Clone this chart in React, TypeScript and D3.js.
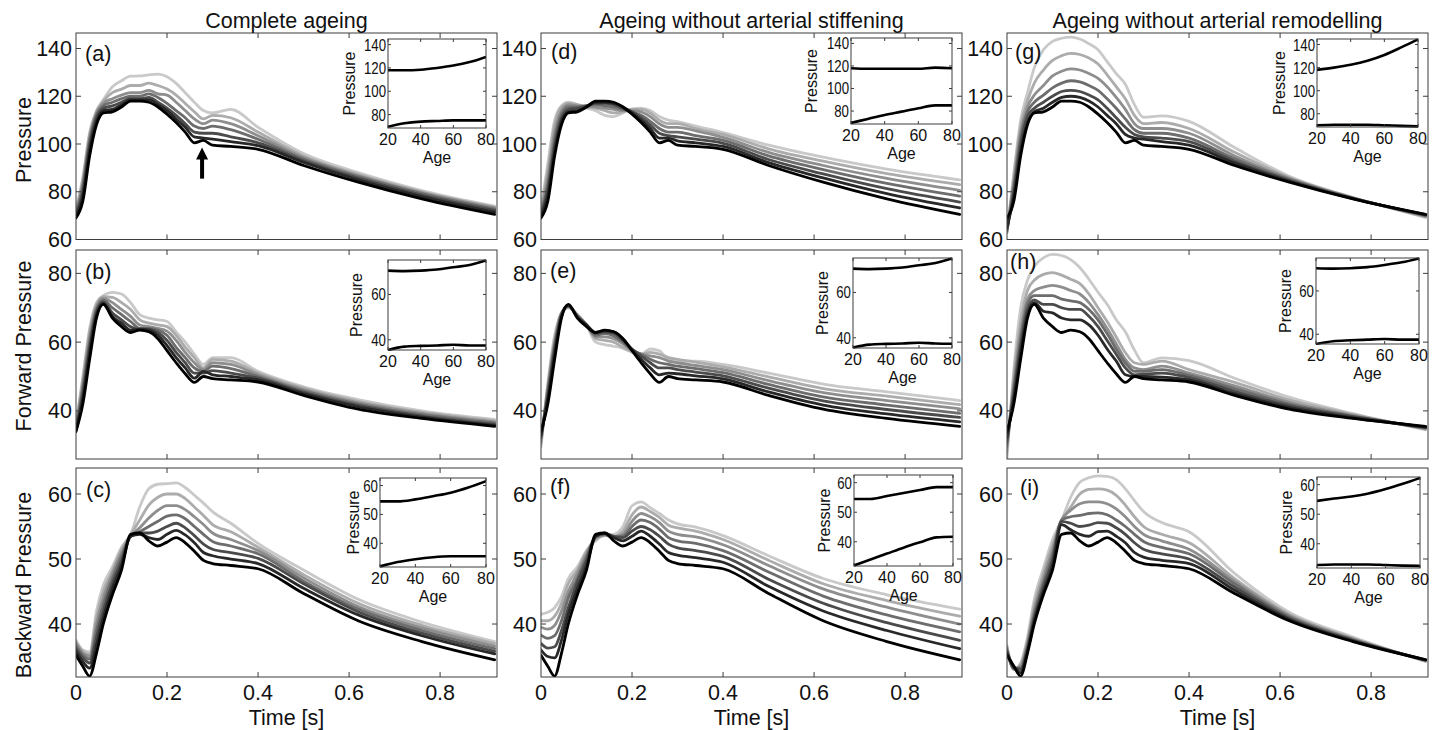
import React from 'react';
import * as d3 from 'd3';

// ---------- time grid (s) ----------
const T = [0, 0.015, 0.03, 0.045, 0.06, 0.08, 0.10, 0.12, 0.14, 0.16, 0.18, 0.20, 0.22, 0.24, 0.26, 0.28, 0.30, 0.34, 0.40, 0.50, 0.62, 0.76, 0.92];

// ---------- baseline (age 20, black) curves shared by each row ----------
const PRS_BASE = [69, 76, 95, 108, 113, 113.5, 115.5, 118, 118, 117.5, 115.5, 112.5, 109, 105, 100.5, 101.5, 99.5, 99, 97.8, 91, 84, 77, 70.5];
const FWD_BASE = [34, 42, 55, 67, 71, 67, 64.5, 62.8, 63.5, 63, 61, 57.5, 54, 50.8, 48.3, 50, 49.4, 49, 48.4, 44.5, 40.5, 37.8, 35.5];
const BWD_BASE = [35.2, 33.5, 32, 35.5, 40, 44.5, 48.3, 53.8, 54, 52.8, 52, 52.6, 53.3, 52.5, 51.2, 49.8, 49.3, 49, 48.5, 44.7, 40.5, 37.3, 34.5];

// ---------- (a) complete ageing, pressure ----------
const A1 = [70, 78, 97.5, 109.5, 114, 114.5, 116.5, 118.5, 118.5, 118.5, 116.5, 114, 110.5, 107, 103, 102.5, 102, 101, 99.3, 92.3, 85, 78, 71.5];
const A2 = [70.5, 80, 99.5, 111, 115, 116, 117.5, 119, 119, 119.5, 117.5, 115, 112, 108.5, 105, 104.5, 104.5, 103, 100.5, 93, 85.7, 78.6, 72.2];
const A3 = [71, 82, 101.5, 112, 116, 117.5, 119, 120, 120, 121, 119.5, 117, 114, 111, 107.5, 106.5, 107.5, 106, 102, 93.7, 86.3, 79.2, 72.7];
const A4 = [71.5, 83.5, 102.5, 113, 117, 119, 120.5, 121.5, 121.5, 122.5, 121, 120.5, 117.5, 114, 110.5, 108.5, 110, 108.5, 103.5, 94.3, 86.8, 79.6, 73.2];
const A5 = [72, 85, 104, 113.5, 118, 121.5, 123, 124.5, 124.5, 125.5, 124.5, 123, 120.5, 117, 113.5, 110.5, 112, 111, 105, 95, 87.3, 80, 73.6];
const A6 = [73, 86, 105, 114, 118.5, 124, 126.5, 128.4, 128.5, 129, 129.3, 128.2, 125.4, 121.5, 117.5, 114, 113, 114.5, 107, 96, 88, 80.5, 74];

// ---------- (d) without stiffening, pressure ----------
const D1 = [70, 78.5, 97, 109.5, 113.5, 114, 115.5, 117.5, 117.5, 117, 115.5, 113, 110, 106.5, 102.5, 102.5, 101.3, 100.5, 99, 92.2, 85.8, 79.2, 73.2];
const D2 = [70.5, 81, 99.5, 111, 114.5, 115, 116, 117, 117, 116.5, 115, 113.5, 111, 108, 104.5, 103.5, 103, 102, 100.3, 93.5, 87.5, 81.3, 75.7];
const D3 = [71, 83, 102, 112.5, 115.5, 115.5, 116, 116.5, 116, 115.5, 114.5, 113.5, 112, 109.5, 106.5, 105, 105, 103.5, 101.5, 95, 89.3, 83.5, 78.2];
const D4 = [72, 86, 105, 114, 116.5, 116, 116, 115.5, 115, 114.5, 114, 114, 113.5, 111.5, 108.5, 107, 107, 105.5, 102.8, 96.5, 91, 85.6, 80.6];
const D5 = [72.5, 89, 108, 115.5, 117, 116.5, 115.5, 115, 114, 113, 113.5, 114.5, 114.5, 113, 110, 108.5, 108.5, 106.5, 104, 98, 92.8, 87.6, 83];
const D6 = [73, 92, 110, 116, 117.5, 116.5, 115, 114, 112, 111.5, 113, 114.7, 115, 114, 111.5, 110, 109.4, 107.5, 104.8, 99.5, 94.5, 89.5, 85];

// ---------- (g) without remodelling, pressure ----------
const G1 = [65, 78, 97, 109, 113.5, 115, 117.5, 119.5, 120, 119.5, 118, 115.5, 112, 108.5, 104, 102.5, 102, 101, 99.5, 92, 84.4, 77.1, 70.4];
const G2 = [64.5, 80, 100, 111.5, 115, 117.5, 120, 122, 122.5, 122, 120.5, 118.5, 115, 111, 107, 104, 103, 102.5, 101, 92.8, 84.8, 77.2, 70.2];
const G3 = [64, 82, 102.5, 113.5, 117.5, 120.5, 123.5, 125.5, 126.5, 126, 124.5, 122.5, 119, 115, 110.5, 106, 104.5, 104.5, 102.5, 93.8, 85.2, 77.3, 70];
const G4 = [63.5, 84, 105, 115.5, 120.5, 124.5, 128.5, 130.5, 131.5, 131, 129.5, 127.5, 124, 119.5, 114.5, 108.5, 106.5, 106.5, 104.5, 95, 85.6, 77.4, 69.8];
const G5 = [63, 86, 107.5, 118, 125.5, 131, 135, 137, 138, 137.5, 136, 133.5, 129, 124, 119, 112, 108.5, 109, 106.5, 96.5, 86, 77.5, 69.5];
const G6 = [63, 88, 110, 121.5, 132, 139.5, 143, 144.3, 144.8, 144, 142, 139.5, 134.5, 129.5, 125, 116.5, 111.2, 111.8, 109.5, 98.5, 86.5, 77.6, 69.2];

// ---------- (b) complete ageing, forward ----------
const B1 = [34.3, 43.5, 57, 68, 71.3, 67.5, 65.5, 63.5, 63.8, 63.5, 62, 59, 55.5, 52.5, 49.5, 51.5, 50.5, 50, 49, 45, 41.2, 38.2, 35.8];
const B2 = [34.6, 45, 58.5, 68.8, 71.7, 68.5, 66.5, 64.5, 63.8, 63.8, 62.8, 60.5, 57, 54, 51, 51, 51.7, 51, 49.5, 45.4, 41.6, 38.5, 36.1];
const B3 = [35, 46.5, 60, 69.5, 72.2, 70, 68, 66, 64, 64, 63.5, 62, 58.5, 55.5, 52.5, 51.5, 53, 52.3, 50, 45.8, 42, 38.9, 36.5];
const B4 = [35.3, 47.5, 61.5, 70.2, 72.7, 71.5, 69.5, 67.5, 65, 64.5, 64, 63.2, 60.5, 57, 54, 52, 54, 53.5, 50.5, 46.2, 42.4, 39.3, 36.8];
const B5 = [35.6, 49, 63, 71, 73.2, 73, 71.5, 69.5, 66.5, 65.5, 65, 64.5, 62, 58.5, 55.5, 52.5, 55, 54.5, 51, 46.6, 42.8, 39.6, 37.1];
const B6 = [36, 50, 64, 71.5, 73.5, 74.5, 74, 71.5, 68, 67, 66.5, 66, 63, 60, 56.5, 53.5, 55.5, 55.5, 51.5, 47, 43.3, 40, 37.5];

// ---------- (e) without stiffening, forward ----------
const E1 = [33, 43.5, 56.5, 67.5, 70.8, 67.2, 65, 62.8, 63.3, 63, 61, 57.8, 55, 52.5, 50.5, 51, 50.8, 50.2, 49.3, 45.5, 41.7, 39.1, 36.8];
const E2 = [32.5, 44.5, 58, 68, 70.6, 67.4, 65, 62.5, 63, 62.5, 60.5, 58, 56, 54, 52.5, 52.5, 52, 51.3, 50.2, 46.6, 42.9, 40.4, 38.1];
const E3 = [32, 45.5, 59, 68, 70.4, 67.6, 65, 62, 62.5, 61.8, 60, 57.8, 56.5, 55, 54, 53.5, 53, 52.3, 51.1, 47.7, 44.1, 41.7, 39.3];
const E4 = [31, 46.5, 60, 68.5, 70.3, 67.8, 65, 61.5, 61.5, 61, 59.5, 57.5, 56.5, 56, 55.5, 54.5, 54, 53.2, 52, 48.8, 45.3, 43, 40.6];
const E5 = [30.5, 47.5, 61, 68.5, 70.2, 68, 65, 61, 60.5, 60, 58.5, 57.3, 56.5, 57, 56.5, 55.5, 55, 54.2, 52.8, 49.9, 46.5, 44.3, 41.8];
const E6 = [29.5, 48, 62, 68.5, 70, 68, 65, 60, 59.3, 58.8, 58.2, 57, 56.5, 58, 57.5, 55, 54.5, 54.5, 53.5, 51, 47.8, 45.5, 43];

// ---------- (h) without remodelling, forward ----------
const H1 = [32.5, 43.5, 57, 68, 71.5, 69, 68.5, 67, 66.5, 66.5, 65, 62, 58, 54.5, 50.5, 50, 50, 49.8, 49, 45, 41, 38, 35.3];
const H2 = [31.5, 45, 59, 69.5, 72.3, 71, 71, 70, 69.5, 69.5, 67.5, 64.5, 60.5, 56.5, 52.5, 50.5, 50.7, 51, 49.7, 45.7, 41.5, 38.3, 35.2];
const H3 = [30.5, 46.5, 61, 71, 73.5, 73.5, 73.5, 72.5, 72, 71.5, 69.5, 66.5, 62.5, 58, 54, 51.5, 51.5, 52, 50.3, 46.5, 42, 38.5, 35];
const H4 = [29.5, 48, 63, 72.5, 75, 76, 76.5, 76, 75, 74, 71.5, 68, 64, 59.5, 55, 52.5, 52, 53, 51, 47.3, 42.5, 38.7, 34.9];
const H5 = [28, 50, 66, 75, 78, 79.7, 80.2, 79.5, 78.3, 77, 74, 70, 66, 61.5, 57, 54, 53.5, 54.5, 52, 48.3, 43.2, 39, 34.7];
const H6 = [26.5, 52, 70, 78, 82, 84.5, 85.5, 85.2, 84, 81.7, 78.3, 74.5, 71, 66.5, 63, 57.7, 54, 55.4, 54.6, 49.5, 44, 39.2, 34.5];

// ---------- (c) complete ageing, backward ----------
const C1 = [35.8, 34.2, 33.2, 36.8, 41, 45.5, 49, 53.5, 53.8, 53.3, 53, 53.8, 54.4, 53.7, 52.5, 51, 50.5, 50, 49.3, 45.5, 41.4, 38.2, 35.4];
const C2 = [36.2, 34.8, 34, 38, 42, 46.3, 49.7, 53.5, 54, 54, 54.3, 55, 55.5, 54.8, 53.6, 52.3, 51.5, 51, 50.1, 46.2, 41.9, 38.6, 35.8];
const C3 = [36.6, 35.2, 34.6, 39, 43, 47, 50.4, 53.5, 54.2, 55, 55.8, 56.6, 56.8, 56.2, 55, 53.8, 52.7, 52, 50.8, 46.6, 42.3, 39, 36.2];
const C4 = [37, 35.5, 35, 40, 44, 47.7, 51, 53.5, 54.8, 56.3, 57.5, 58.2, 58.2, 57.6, 56.5, 55.3, 54, 53, 51.3, 47.1, 42.7, 39.4, 36.6];
const C5 = [37.2, 35.8, 35.3, 41, 45, 48.2, 51.5, 53.7, 56, 58.3, 59.5, 60, 60, 59.3, 58, 56.7, 55.3, 54.2, 51.8, 47.6, 43.2, 39.8, 37];
const C6 = [37.5, 36, 35.7, 42, 46, 48.8, 51.8, 53.8, 58, 60.8, 61.5, 61.6, 61.7, 61, 59.8, 58.6, 57.3, 55.5, 52.4, 48.3, 43.8, 40.3, 37.3];

// ---------- (f) without stiffening, backward ----------
const F1 = [36, 35, 34.8, 37.5, 41.5, 45.5, 49, 53.5, 54, 53.3, 52.8, 53.5, 54.3, 53.5, 52.3, 51, 50.6, 50.2, 49.5, 45.8, 42, 39, 36.2];
const F2 = [37, 36.3, 36.5, 39, 42.5, 46.5, 49.8, 53.5, 53.9, 53.5, 53.3, 54.3, 55, 54.5, 53.5, 52.3, 51.7, 51.3, 50.4, 46.9, 43.2, 40.2, 37.5];
const F3 = [38.3, 37.8, 38.2, 40.5, 44, 47, 50.3, 53.4, 53.8, 53.4, 53.5, 55, 56, 55.6, 54.6, 53.3, 52.8, 52.4, 51.3, 48, 44.3, 41.4, 38.8];
const F4 = [39.5, 39.2, 39.8, 42, 45, 47.8, 50.8, 53.2, 53.7, 53.4, 53.8, 55.8, 57, 56.5, 55.6, 54.3, 53.8, 53.4, 52.2, 49, 45.4, 42.6, 40];
const F5 = [40.5, 40.5, 41.2, 43.2, 46.2, 48.3, 51.2, 53, 53.6, 53.5, 54.3, 56.8, 58, 57.3, 56.4, 55.2, 54.8, 54.3, 53, 49.8, 46.2, 43.6, 41.2];
const F6 = [41.5, 41.8, 42.5, 44.2, 47, 48.8, 51.3, 52.8, 53.7, 53.8, 55, 58.2, 58.8, 57.9, 57, 56, 55.4, 54.9, 53.6, 50.5, 47, 44.5, 42.3];

// ---------- (i) without remodelling, backward ----------
const I1 = [35.5, 33.5, 32.5, 35.8, 40.5, 45, 49, 55.3, 54.5, 53.8, 53.5, 54.2, 54.3, 53.5, 52.5, 51, 50.3, 49.8, 49.3, 45.2, 40.7, 37.4, 34.5];
const I2 = [35.8, 33.3, 33, 36.2, 41, 45.7, 49.8, 55.8, 55.5, 55, 55.2, 55.6, 55.5, 54.8, 53.8, 52.5, 51.5, 50.8, 50, 45.7, 40.9, 37.5, 34.5];
const I3 = [36, 33.2, 33.2, 36.6, 41.5, 46.3, 50.6, 56, 56.5, 56.7, 57, 57.1, 56.8, 56, 55, 53.8, 52.7, 51.8, 50.8, 46.2, 41.1, 37.6, 34.4];
const I4 = [36.2, 33.1, 33.5, 37, 42.2, 47, 51.4, 56, 57.5, 58.5, 58.8, 58.8, 58.5, 57.7, 56.5, 55, 53.8, 52.8, 51.5, 46.6, 41.3, 37.7, 34.4];
const I5 = [36.5, 33, 33.8, 37.5, 43, 47.8, 52.2, 55.8, 58, 60, 60.7, 60.8, 60.6, 59.8, 58.3, 56.5, 55, 53.8, 52.5, 47, 41.5, 37.8, 34.3];
const I6 = [36.7, 33, 34, 38, 43.8, 48.6, 53, 56, 59.5, 61.8, 62.5, 62.8, 62.7, 62.2, 60.8, 59, 57.3, 55.6, 54.2, 47.8, 41.8, 38, 34.2];

// ---------- insets: systolic (max) and diastolic (min) vs age ----------
const AGES = [20, 30, 40, 50, 60, 70, 80];
const INS_A_SYS = [118, 118, 118.5, 120, 122, 125, 129.5];
const INS_A_DIA = [69.5, 72.5, 74, 74.5, 75, 75, 75];
const INS_D_SYS = [118, 117.5, 117.5, 117.5, 117.5, 118.5, 118];
const INS_D_DIA = [69.5, 73, 76.5, 79.5, 82.5, 85, 85];
const INS_G_SYS = [118, 120, 122.5, 126, 131, 137.5, 144.5];
const INS_G_DIA = [70, 70.5, 70.5, 70.5, 70, 69.5, 69];
const INS_B_SYS = [70.5, 70.3, 70.5, 71, 72, 73, 75];
const INS_B_DIA = [35.5, 37, 37.3, 37.5, 37.8, 37.5, 37.5];
const INS_E_SYS = [70.5, 70.3, 70.5, 71, 72, 73, 75];
const INS_E_DIA = [35.7, 37, 37.3, 37.5, 37.8, 37.5, 37.4];
const INS_H_SYS = [70.5, 70.3, 70.5, 71, 72, 73.2, 75];
const INS_H_DIA = [35.5, 36.8, 37.2, 37.5, 37.8, 37.5, 37.5];
const INS_C_SYS = [54.5, 54.5, 55.2, 56.3, 57.5, 59.3, 61.5];
const INS_C_DIA = [32, 33.5, 34.5, 35.2, 35.5, 35.5, 35.5];
const INS_F_SYS = [54.5, 54.5, 55.5, 56.5, 57.5, 58.5, 58.5];
const INS_F_DIA = [32, 34, 36, 38, 39.8, 41.5, 41.7];
const INS_I_SYS = [54.5, 55.3, 56, 57, 58.5, 60.3, 62.3];
const INS_I_DIA = [32.8, 33, 33, 33, 32.8, 32.6, 32.5];

// ---------- labels / ticks ----------
const TITLES = ['Complete ageing', 'Ageing without arterial stiffening', 'Ageing without arterial remodelling'];
const TIME_TICKS = [0, 0.2, 0.4, 0.6, 0.8];
const AGE_TICKS = [20, 40, 60, 80];
const ARROW = { t: 0.277, from: 85.5, to: 98.5 };

// ---------- styling / layout ----------
const GRAYS = ['#000000', '#282828', '#4b4b4b', '#6d6d6d', '#8e8e8e', '#acacac', '#c9c9c9'];
const FONT = "'Liberation Sans', Arial, Helvetica, sans-serif";
const COL_X = [76, 541, 1007];
const PANEL_W = 421;
const T_MAX = 0.925;

const ROWS = [
  { top: 33, bottom: 239.5, domain: [60, 146.5], ticks: [60, 80, 100, 120, 140], ylabel: 'Pressure', labelY: 140, insetDomain: [68.5, 144.8], insetTicks: [80, 100, 120, 140] },
  { top: 250, bottom: 459, domain: [26, 86.8], ticks: [40, 60, 80], ylabel: 'Forward Pressure', labelY: 346, insetDomain: [35.5, 75.2], insetTicks: [40, 60] },
  { top: 468, bottom: 677, domain: [31.85, 64], ticks: [40, 50, 60], ylabel: 'Backward Pressure', labelY: 585, insetDomain: [31.8, 62.6], insetTicks: [40, 50, 60] },
];

const PANELS = [
  { id: 'a', row: 0, col: 0, lines: [PRS_BASE, A1, A2, A3, A4, A5, A6], sys: INS_A_SYS, dia: INS_A_DIA, tag: [85, 60.5], inset: [388, 39, 486, 128], pDx: -33 },
  { id: 'b', row: 1, col: 0, lines: [FWD_BASE, B1, B2, B3, B4, B5, B6], sys: INS_B_SYS, dia: INS_B_DIA, tag: [85, 278.5], inset: [388, 260, 486, 350], pDx: -26 },
  { id: 'c', row: 2, col: 0, lines: [BWD_BASE, C1, C2, C3, C4, C5, C6], sys: INS_C_SYS, dia: INS_C_DIA, tag: [86, 496.5], inset: [380, 478, 486, 567], pDx: -21 },
  { id: 'd', row: 0, col: 1, lines: [PRS_BASE, D1, D2, D3, D4, D5, D6], sys: INS_D_SYS, dia: INS_D_DIA, tag: [551, 58.5], inset: [851, 38, 952, 124], pDx: -34 },
  { id: 'e', row: 1, col: 1, lines: [FWD_BASE, E1, E2, E3, E4, E5, E6], sys: INS_E_SYS, dia: INS_E_DIA, tag: [550, 277.5], inset: [853, 258, 952, 348], pDx: -25 },
  { id: 'f', row: 2, col: 1, lines: [BWD_BASE, F1, F2, F3, F4, F5, F6], sys: INS_F_SYS, dia: INS_F_DIA, tag: [550, 494], inset: [854, 475, 953, 566], pDx: -24 },
  { id: 'g', row: 0, col: 2, lines: [PRS_BASE, G1, G2, G3, G4, G5, G6], sys: INS_G_SYS, dia: INS_G_DIA, tag: [1015, 58.5], inset: [1317, 39, 1418, 127], pDx: -32 },
  { id: 'h', row: 1, col: 2, lines: [FWD_BASE, H1, H2, H3, H4, H5, H6], sys: INS_H_SYS, dia: INS_H_DIA, tag: [1010, 268.5], inset: [1316, 258, 1419, 344], pDx: -25 },
  { id: 'i', row: 2, col: 2, lines: [BWD_BASE, I1, I2, I3, I4, I5, I6], sys: INS_I_SYS, dia: INS_I_DIA, tag: [1020, 495], inset: [1317, 477, 1420, 568], pDx: -25 },
];

const FRAME = '#3c3c3c';

function Inset({ p }: { p: any }) {
  const row = ROWS[p.row];
  const [il, it, ir, ib] = p.inset;
  const ix = d3.scaleLinear().domain([20, 80]).range([il, ir]);
  const iy = d3.scaleLinear().domain(row.insetDomain).range([ib, it]);
  const gen = d3.line<number>().x((_, i) => ix(AGES[i])).y((d) => iy(d)).curve(d3.curveMonotoneX);
  const clip = `iclip-${p.id}`;
  return (
    <g>
      <defs>
        <clipPath id={clip}><rect x={il} y={it - 1} width={ir - il} height={ib - it + 2} /></clipPath>
      </defs>
      <rect x={il} y={it} width={ir - il} height={ib - it} fill="#fff" />
      <g clipPath={`url(#${clip})`} fill="none" stroke="#000" strokeWidth={2.6} strokeLinejoin="round">
        <path d={gen(p.sys) || ''} />
        <path d={gen(p.dia) || ''} />
      </g>
      <rect x={il} y={it} width={ir - il} height={ib - it} fill="none" stroke={FRAME} strokeWidth={1} />
      {AGE_TICKS.map((a) => (
        <g key={a}>
          <line x1={ix(a)} x2={ix(a)} y1={ib} y2={ib - 3} stroke={FRAME} />
          <line x1={ix(a)} x2={ix(a)} y1={it} y2={it + 3} stroke={FRAME} />
          <text x={ix(a)} y={ib + 17} fontSize={16} textAnchor="middle" fill="#111">{a}</text>
        </g>
      ))}
      {row.insetTicks.map((v) => (
        <g key={v}>
          <line x1={il} x2={il + 3} y1={iy(v)} y2={iy(v)} stroke={FRAME} />
          <line x1={ir} x2={ir - 3} y1={iy(v)} y2={iy(v)} stroke={FRAME} />
          <text transform={`translate(${il - 2},${iy(v) + 6}) scale(0.78,1)`} fontSize={17} textAnchor="end" fill="#111">{v}</text>
        </g>
      ))}
      <text x={(il + ir) / 2} y={ib + 35} fontSize={16} textAnchor="middle" fill="#111">Age</text>
      <text transform={`translate(${il + p.pDx},${(it + ib) / 2}) rotate(-90)`} fontSize={16} textAnchor="middle" fill="#111">Pressure</text>
    </g>
  );
}

function Panel({ p }: { p: any }) {
  const row = ROWS[p.row];
  const x0 = COL_X[p.col];
  const x = d3.scaleLinear().domain([0, T_MAX]).range([x0, x0 + PANEL_W]);
  const y = d3.scaleLinear().domain(row.domain).range([row.bottom, row.top]);
  const gen = d3.line<number>().x((_, i) => x(T[i])).y((d) => y(d)).curve(d3.curveMonotoneX);
  const clip = `clip-${p.id}`;
  const order = p.lines.map((_: any, i: number) => i).reverse();
  const h = row.bottom - row.top;
  return (
    <g>
      <defs>
        <clipPath id={clip}><rect x={x0} y={row.top} width={PANEL_W} height={h} /></clipPath>
      </defs>
      <g clipPath={`url(#${clip})`} fill="none" strokeLinejoin="round" strokeLinecap="round">
        {order.map((i: number) => (
          <path key={i} d={gen(p.lines[i]) || ''} stroke={GRAYS[i]} strokeWidth={2.8} />
        ))}
      </g>
      <rect x={x0} y={row.top} width={PANEL_W} height={h} fill="none" stroke={FRAME} strokeWidth={1} />
      {TIME_TICKS.filter((t) => t > 0).map((t) => (
        <g key={t}>
          <line x1={x(t)} x2={x(t)} y1={row.bottom} y2={row.bottom - 5} stroke={FRAME} />
          <line x1={x(t)} x2={x(t)} y1={row.top} y2={row.top + 5} stroke={FRAME} />
        </g>
      ))}
      {row.ticks.map((v) => (
        <g key={v}>
          <line x1={x0} x2={x0 + 5} y1={y(v)} y2={y(v)} stroke={FRAME} />
          <line x1={x0 + PANEL_W} x2={x0 + PANEL_W - 5} y1={y(v)} y2={y(v)} stroke={FRAME} />
          <text x={x0 - 4} y={y(v) + 7.5} fontSize={21.5} textAnchor="end" fill="#111">{v}</text>
        </g>
      ))}
      {p.row === 2 &&
        TIME_TICKS.map((t) => (
          <text key={t} x={x(t)} y={700} fontSize={21.5} textAnchor="middle" fill="#111">{String(t)}</text>
        ))}
      {p.row === 2 && (
        <text x={x0 + PANEL_W / 2} y={725} fontSize={21.5} textAnchor="middle" fill="#111">Time [s]</text>
      )}
      {p.row === 0 && (
        <text x={x0 + PANEL_W / 2} y={28} fontSize={21.5} textAnchor="middle" fill="#111">{TITLES[p.col]}</text>
      )}
      {p.col === 0 && (
        <text transform={`translate(31,${row.labelY}) rotate(-90)`} fontSize={21.5} textAnchor="middle" fill="#111">{row.ylabel}</text>
      )}
      <text x={p.tag[0]} y={p.tag[1]} fontSize={21.5} fill="#111">({p.id})</text>
      <Inset p={p} />
      {p.id === 'a' && (() => {
        const ax = x(ARROW.t);
        const yTip = y(ARROW.to);
        const yBase = y(ARROW.from);
        const headLen = 12;
        return (
          <g fill="#000">
            <rect x={ax - 2} y={yTip + headLen - 1} width={4} height={yBase - yTip - headLen + 1} />
            <polygon points={`${ax},${yTip} ${ax - 6},${yTip + headLen} ${ax + 6},${yTip + headLen}`} />
          </g>
        );
      })()}
    </g>
  );
}

export default function App() {
  return (
    <svg
      width={1437}
      height={730}
      style={{ position: 'absolute', left: 0, top: 0, background: '#fff', display: 'block' }}
      fontFamily={FONT}
    >
      <rect x={0} y={0} width={1437} height={730} fill="#fff" />
      {PANELS.map((p) => (
        <Panel key={p.id} p={p} />
      ))}
    </svg>
  );
}
